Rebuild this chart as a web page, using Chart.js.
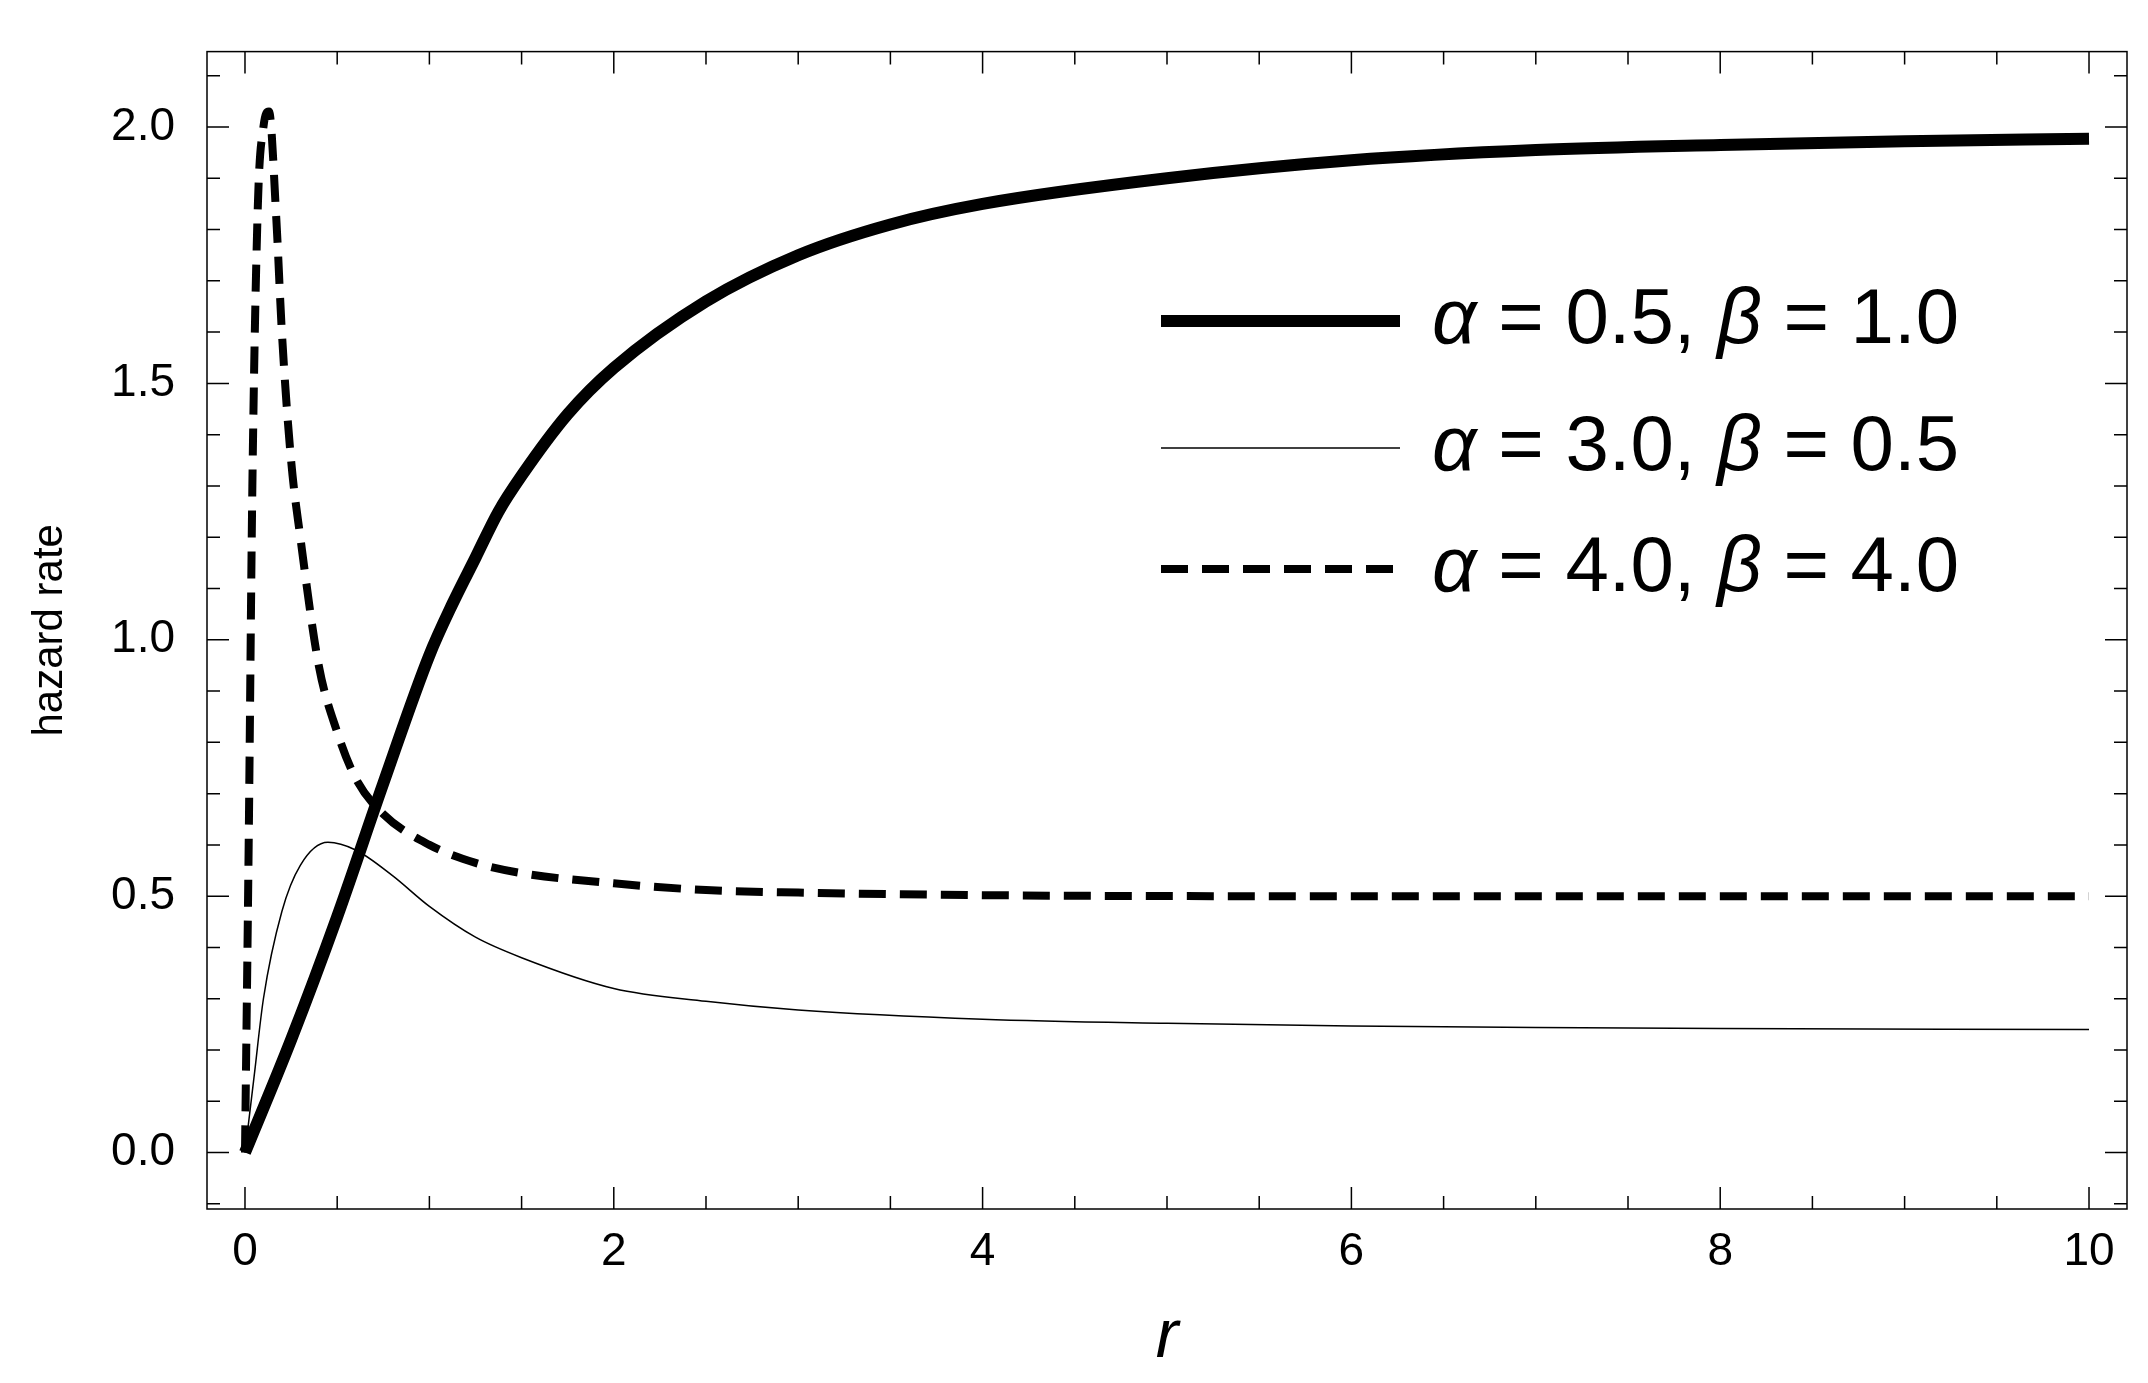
<!DOCTYPE html>
<html>
<head>
<meta charset="utf-8">
<script src="https://cdn.jsdelivr.net/npm/chart.js@4"></script>
<style>
  html, body { margin: 0; padding: 0; background: #fff; }
  #wrap { width: 2148px; height: 1383px; }
</style>
</head>
<body>
<div id="wrap"><canvas id="c" width="2148" height="1383"></canvas></div>
<script>
// values
const rA = [0, 0.25, 0.5, 0.75, 1, 1.125, 1.25, 1.375, 1.5, 1.75, 2, 2.5, 3, 3.5, 4, 5, 6, 7, 8, 9, 10];
const hA = [0, 0.22, 0.46, 0.72, 0.97, 1.07, 1.16, 1.25, 1.32, 1.44, 1.53, 1.66, 1.75, 1.81, 1.85, 1.9, 1.935, 1.955, 1.965, 1.972, 1.977];

const rB = [0, 0.05, 0.1, 0.2, 0.3, 0.45, 0.6, 0.8, 1, 1.25, 1.5, 2, 2.5, 3, 4, 5, 6, 7, 8, 10];
const hB = [0, 0.15, 0.3, 0.47, 0.56, 0.605, 0.59, 0.54, 0.48, 0.42, 0.38, 0.32, 0.295, 0.278, 0.26, 0.252, 0.247, 0.244, 0.242, 0.24];

const rC = [0, 0.02, 0.04, 0.07, 0.1, 0.13, 0.17, 0.2, 0.25, 0.3, 0.4, 0.5, 0.6, 0.75, 1, 1.25, 1.5, 2, 2.5, 3, 4, 6, 10];
const hC = [0, 0.6, 1.3, 1.85, 2.0, 2.03, 1.82, 1.6, 1.35, 1.2, 0.95, 0.82, 0.73, 0.66, 0.6, 0.565, 0.545, 0.525, 0.512, 0.507, 0.502, 0.5, 0.5];

const xTicks = [0, 2, 4, 6, 8, 10];
const yTicks = [0, 0.5, 1, 1.5, 2];
const legendLabels = [['0.5', '1.0'], ['3.0', '0.5'], ['4.0', '4.0']];

const FONT = '"Liberation Sans", Arial, sans-serif';
const pts = (r, h) => r.map((v, i) => ({ x: v, y: h[i] }));

// ticks drawn inward on all four sides, plus labels and legend
const framePlugin = {
    id: 'frame',
    afterDraw(chart) {
        const { ctx, chartArea: a, scales: { x, y } } = chart;
        ctx.save();
        ctx.strokeStyle = '#000';
        ctx.lineWidth = 1.5;
        ctx.strokeRect(a.left, a.top, a.right - a.left, a.bottom - a.top);
        ctx.beginPath();
        for (let v = 0; v <= 10.001; v += 0.5) {
            const px = x.getPixelForValue(v);
            const len = Math.abs(v % 2) < 1e-6 ? 22 : 13;
            ctx.moveTo(px, a.bottom); ctx.lineTo(px, a.bottom - len);
            ctx.moveTo(px, a.top); ctx.lineTo(px, a.top + len);
        }
        for (let k = -1; k <= 21; k++) {
            const v = k / 10;
            const py = y.getPixelForValue(v);
            if (py < a.top || py > a.bottom) continue;
            const len = k % 5 === 0 ? 22 : 13;
            ctx.moveTo(a.left, py); ctx.lineTo(a.left + len, py);
            ctx.moveTo(a.right, py); ctx.lineTo(a.right - len, py);
        }
        ctx.stroke();

        // axis titles
        ctx.fillStyle = '#000';
        ctx.font = '42px ' + FONT;
        ctx.textAlign = 'center';
        ctx.textBaseline = 'middle';
        ctx.save();
        ctx.translate(50, (a.top + a.bottom) / 2);
        ctx.rotate(-Math.PI / 2);
        ctx.fillText('hazard rate', 0, 0);
        ctx.restore();
        ctx.font = 'italic 68px ' + FONT;
        ctx.fillText('r', (a.left + a.right) / 2, 1338);

        // legend
        const rows = [321, 448, 569];
        const styles = [{ w: 12, d: [] }, { w: 1.5, d: [] }, { w: 8, d: [27, 14] }];
        rows.forEach((ry, i) => {
            ctx.beginPath();
            ctx.lineWidth = styles[i].w;
            ctx.setLineDash(styles[i].d);
            ctx.moveTo(1161, ry); ctx.lineTo(1400, ry);
            ctx.stroke();
            ctx.setLineDash([]);
            const [al, be] = legendLabels[i];
            let tx = 1432;
            ctx.textAlign = 'left';
            const parts = [['italic ', 'α'], ['', ' = ' + al + ', '], ['italic ', 'β'], ['', ' = ' + be]];
            parts.forEach(([st, t]) => {
                ctx.font = st + '78px ' + FONT;
                ctx.fillText(t, tx, ry);
                tx += ctx.measureText(t).width;
            });
        });
        ctx.restore();
    }
};

new Chart(document.getElementById('c'), {
    type: 'line',
    data: {
        datasets: [
            { data: pts(rA, hA), borderColor: '#000', borderWidth: 12, borderCapStyle: 'butt' },
            { data: pts(rB, hB), borderColor: '#000', borderWidth: 1.5 },
            { data: pts(rC, hC), borderColor: '#000', borderWidth: 8, borderDash: [27, 14] }
        ]
    },
    options: {
        responsive: false,
        animation: false,
        events: [],
        elements: { point: { radius: 0 }, line: { tension: 0.4, cubicInterpolationMode: 'monotone' } },
        layout: { padding: { top: 4, right: 21, left: 0, bottom: 0 } },
        plugins: { legend: { display: false }, tooltip: { enabled: false } },
        scales: {
            x: {
                type: 'linear', min: -0.206, max: 10.206,
                grid: { display: false }, border: { display: false },
                afterBuildTicks: s => { s.ticks = xTicks.map(v => ({ value: v })); },
                afterFit: s => { s.height = 174; },
                ticks: { color: '#000', padding: 8, font: { family: FONT, size: 46 }, callback: v => String(v) }
            },
            y: {
                type: 'linear', min: -0.11, max: 2.147,
                grid: { display: false }, border: { display: false },
                afterBuildTicks: s => { s.ticks = yTicks.map(v => ({ value: v })); },
                afterFit: s => { s.width = 207; },
                ticks: { color: '#000', padding: 24, font: { family: FONT, size: 46 }, callback: v => v.toFixed(1) }
            }
        }
    },
    plugins: [framePlugin]
});
</script>
</body>
</html>
